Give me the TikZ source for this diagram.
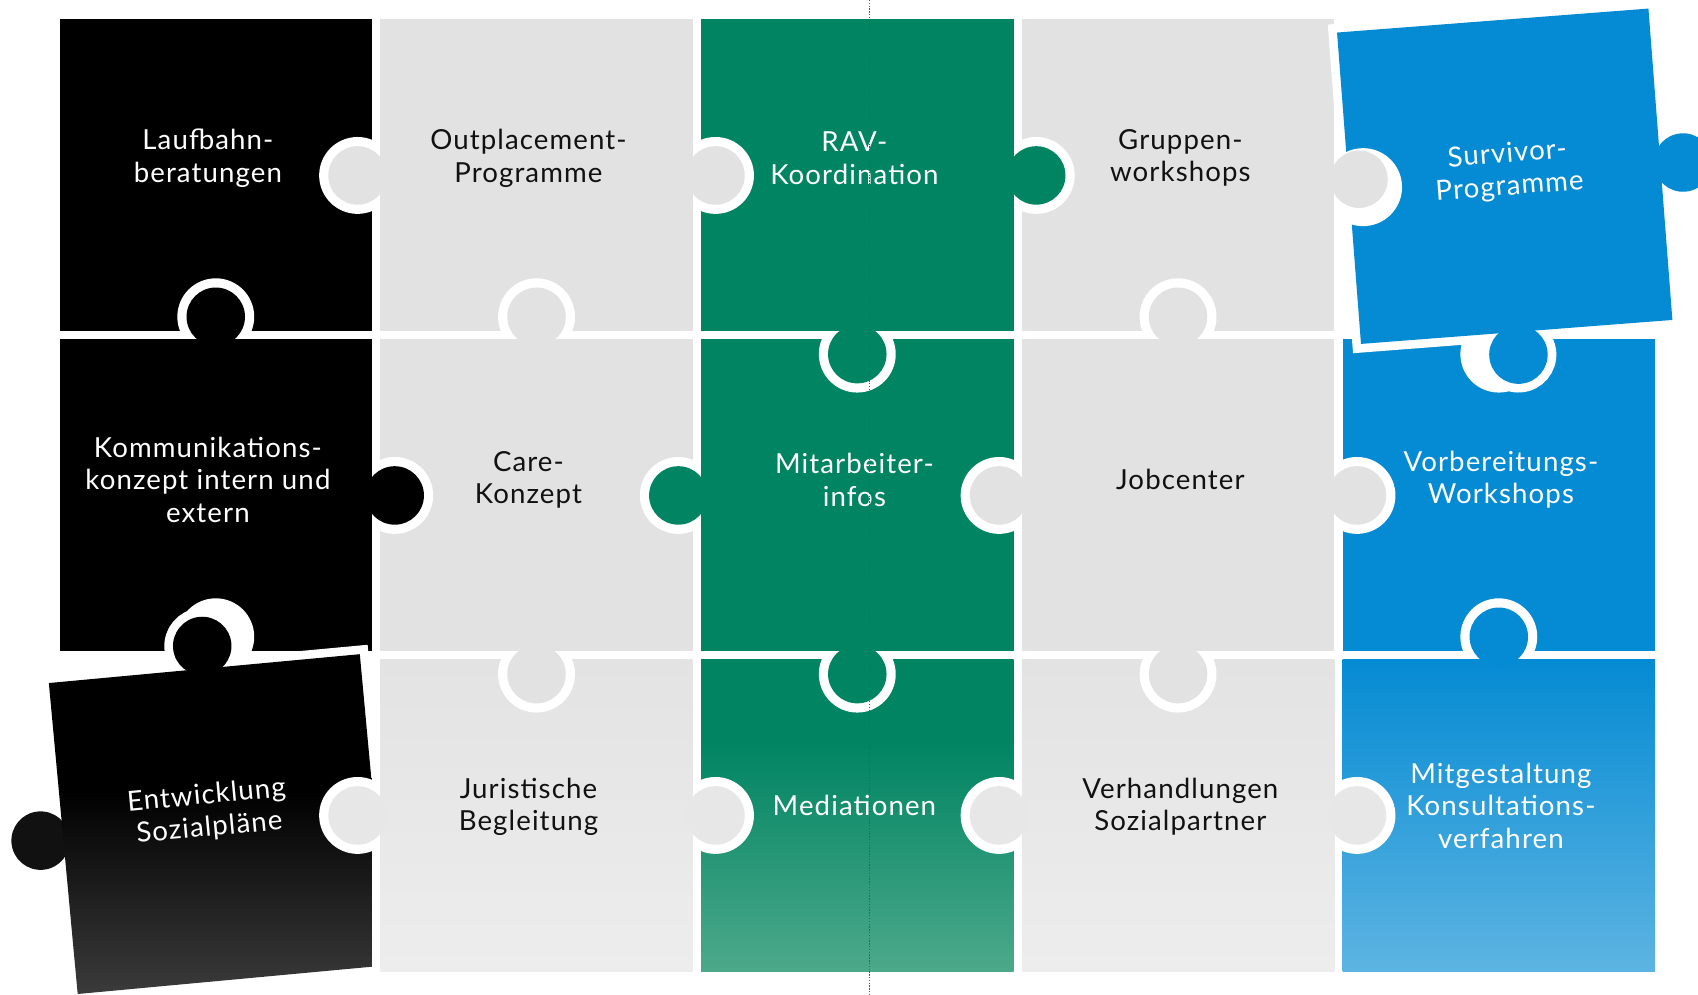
\documentclass[tikz,border=0pt]{standalone}
\usepackage{fontspec}
\setmainfont{Lato}[LetterSpace=4]
\definecolor{lg}{HTML}{E2E2E2}
\definecolor{gtop}{HTML}{E3E3E3}
\definecolor{gbot}{HTML}{EDEDED}
\definecolor{gmid}{HTML}{E7E7E7}
\definecolor{grn}{HTML}{008462}
\definecolor{grnb}{HTML}{4CA98A}
\definecolor{blu}{HTML}{058BD3}
\definecolor{blub}{HTML}{5DB4E2}
\definecolor{entb}{HTML}{3B3B3B}
\definecolor{entk}{HTML}{111111}
\definecolor{txt}{HTML}{111111}
\definecolor{dotc}{HTML}{555555}
\pgfdeclareverticalshading{gshade}{100bp}{color(0bp)=(gbot); color(25bp)=(gbot); color(75bp)=(gtop); color(100bp)=(gtop)}
\pgfdeclareverticalshading{medshade}{100bp}{color(0bp)=(grnb); color(25bp)=(grnb); color(62bp)=(grn); color(100bp)=(grn)}
\pgfdeclareverticalshading{mitshade}{100bp}{color(0bp)=(blub); color(25bp)=(blub); color(75bp)=(blu); color(100bp)=(blu)}
\pgfdeclareverticalshading{entshade}{100bp}{color(0bp)=(entb); color(25bp)=(entb); color(55bp)=(black); color(100bp)=(black)}
\tikzset{
  lbl/.style={font=\fontsize{25.5}{30}\selectfont, align=center, inner sep=0pt},
  dk/.style={lbl, text=white},
  lt/.style={lbl, text=txt},
  gapring/.style={fill=white},
  outl/.style={draw=white, line width=16pt},
}
\newcommand{\pknob}[5]{%
  \fill[gapring] #1 circle (35.5);
  \begin{scope}\clip #1 circle (37.5); \path[#4] #2 rectangle #3; \end{scope}
  \fill[#5] #1 circle (27);}
\begin{document}
\begin{tikzpicture}[x=1pt,y=-1pt]
\useasboundingbox (0,0) rectangle (1568,918);
% row 1
\path[fill=black] (55,18) rectangle (343.5,306);
\path[fill=lg] (351.2,18) rectangle (639.7,306);
\path[fill=grn] (647.4,18) rectangle (935.9,306);
\path[fill=lg] (943.6,18) rectangle (1232.1,306);
% row 2
\path[fill=black] (55,313.5) rectangle (343.5,601.5);
\path[fill=lg] (351.2,313.5) rectangle (639.7,601.5);
\path[fill=grn] (647.4,313.5) rectangle (935.9,601.5);
\path[fill=lg] (943.6,313.5) rectangle (1232.1,601.5);
\path[fill=blu] (1239.8,313.5) rectangle (1528.3,601.5);
% row 3
\path[shade,shading=gshade] (351.2,609) rectangle (639.7,897);
\path[shade,shading=medshade] (647.4,609) rectangle (935.9,897);
\path[shade,shading=gshade] (943.6,609) rectangle (1232.1,897);
\path[shade,shading=mitshade] (1239.8,609) rectangle (1528.3,897);
% horizontal knobs
\pknob{(330.2,162)}{(351.2,18)}{(639.7,306)}{fill=lg}{lg}
\pknob{(660.7,162)}{(351.2,18)}{(639.7,306)}{fill=lg}{lg}
\pknob{(956.9,162)}{(647.4,18)}{(935.9,306)}{fill=grn}{grn}
\pknob{(364.5,457.5)}{(55,313.5)}{(343.5,601.5)}{fill=black}{black}
\pknob{(626.4,457.5)}{(647.4,313.5)}{(935.9,601.5)}{fill=grn}{grn}
\pknob{(922.6,457.5)}{(943.6,313.5)}{(1232.1,601.5)}{fill=lg}{lg}
\pknob{(1253.1,457.5)}{(943.6,313.5)}{(1232.1,601.5)}{fill=lg}{lg}
\pknob{(660.7,753)}{(351.2,609)}{(639.7,897)}{shade,shading=gshade}{gmid}
\pknob{(922.6,753)}{(943.6,609)}{(1232.1,897)}{shade,shading=gshade}{gmid}
\pknob{(1253.1,753)}{(943.6,609)}{(1232.1,897)}{shade,shading=gshade}{gmid}
% vertical knobs
\pknob{(199.25,292.5)}{(55,313.5)}{(343.5,601.5)}{fill=black}{black}
\pknob{(495.45,292.5)}{(351.2,313.5)}{(639.7,601.5)}{fill=lg}{lg}
\pknob{(791.65,327)}{(647.4,18)}{(935.9,306)}{fill=grn}{grn}
\pknob{(1087.85,292.5)}{(943.6,313.5)}{(1232.1,601.5)}{fill=lg}{lg}
\pknob{(495.45,622.5)}{(351.2,313.5)}{(639.7,601.5)}{fill=lg}{lg}
\pknob{(791.65,622.5)}{(647.4,313.5)}{(935.9,601.5)}{fill=grn}{grn}
\pknob{(1087.85,622.5)}{(943.6,313.5)}{(1232.1,601.5)}{fill=lg}{lg}
\pknob{(1384.05,588)}{(1239.8,609)}{(1528.3,897)}{shade,shading=mitshade}{blu}
% holes left by the displaced pieces
\fill[gapring] (199.25,588) circle (35.5);
\fill[gapring] (1384.05,327) circle (35.5);
% Entwicklung (displaced piece)
\begin{scope}
\clip (-20,540) rectangle (343.5,940);
\begin{scope}[shift={(202,761)},rotate=5.3]
  \path[outl] (-144.2,-144.2) rectangle (144.2,144.2) (0,-165.2) circle (27) (-165.2,0) circle (27);
  \fill[black] (0,-165.2) circle (27);
  \fill[entk] (-165.2,0) circle (27);
  \shade[shading=entshade] (-144.2,-144.2) rectangle (144.2,144.2);
\end{scope}
\end{scope}
\pknob{(330.2,753)}{(351.2,609)}{(639.7,897)}{shade,shading=gshade}{gmid}
% Survivor (displaced piece)
\begin{scope}[shift={(1389.5,162.75)},rotate=4.4]
  \path[outl] (-144.2,-144.2) rectangle (144.2,144.2) (165.2,0) circle (27) (0,165.2) circle (27);
  \fill[blu] (-144.2,-144.2) rectangle (144.2,144.2);
  \fill[blu] (165.2,0) circle (27);
  \fill[blu] (0,165.2) circle (27);
  \fill[gapring] (-131.2,0) circle (36);
\end{scope}
\begin{scope}\clip (1258.7,172.8) circle (37.5); \path[fill=lg] (943.6,18) rectangle (1232.1,306); \end{scope}
\fill[lg] (1255,165.5) circle (26.5);
% labels
\node[dk] (t11) at (192,146) {Laufbahn-\\beratungen};
\node[lt] (t12) at (488,146) {Outplacement-\\Programme};
\node[dk] (t13) at (789,146) {RAV-\\Koordination};
\node[lt] (t14) at (1090,146) {Gruppen-\\workshops};
\node[dk,rotate=4.4] (t15) at (1393,158) {Survivor-\\Programme};
\node[dk] (t21) at (192,443) {Kommunikations-\\konzept intern und\\extern};
\node[lt] (t22) at (488,443) {Care-\\Konzept};
\node[dk] (t23) at (789,443) {Mitarbeiter-\\infos};
\node[lt] (t24) at (1090,443) {Jobcenter};
\node[dk] (t25) at (1386,443) {Vorbereitungs-\\Workshops};
\node[dk,rotate=5.3] (t31) at (192,750) {Entwicklung\\Sozialpläne};
\node[lt] (t32) at (488,745) {Juristische\\Begleitung};
\node[dk] (t33) at (789,744) {Mediationen};
\node[lt] (t34) at (1090,745) {Verhandlungen\\Sozialpartner};
\node[dk] (t35) at (1386,744) {Mitgestaltung\\Konsultations-\\verfahren};
% dotted guide
\coordinate (dtop) at (803,0);
\coordinate (dbot) at (803,918);
\draw[dotc, line width=1.3pt, dash pattern=on 1.3pt off 1.3pt] (dtop) -- (dbot);
\end{tikzpicture}
\end{document}
